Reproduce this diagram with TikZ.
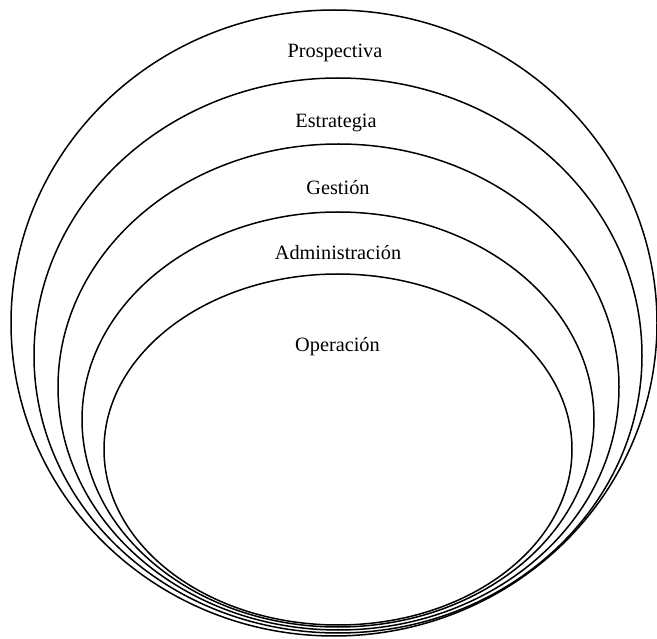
\documentclass[tikz,border=0pt]{standalone}
\usepackage{fontspec}
\setmainfont{Liberation Serif}
\begin{document}
\begin{tikzpicture}[x=1pt,y=-1pt,
  ring/.style={draw=black,line width=1.5pt},
  lbl/.style={anchor=base,inner sep=0pt,font=\fontsize{20.3}{24}\selectfont}]
\useasboundingbox (0,0) rectangle (657,639);
\draw[ring] (334,323) ellipse [x radius=323, y radius=313];
\draw[ring] (338,355.5) ellipse [x radius=304, y radius=277.5];
\draw[ring] (338.5,387) ellipse [x radius=280.5, y radius=243];
\draw[ring] (338,419.5) ellipse [x radius=256, y radius=207.5];
\draw[ring] (338,449.5) ellipse [x radius=234, y radius=175.5];
\node[lbl] (p) at (335,58) {Prospectiva};
\node[lbl] (e) at (336,128) {Estrategia};
\node[lbl] (g) at (338,195) {Gestión};
\node[lbl] (a) at (338,260) {Administración};
\node[lbl] (o) at (337.5,352) {Operación};
\end{tikzpicture}
\end{document}
